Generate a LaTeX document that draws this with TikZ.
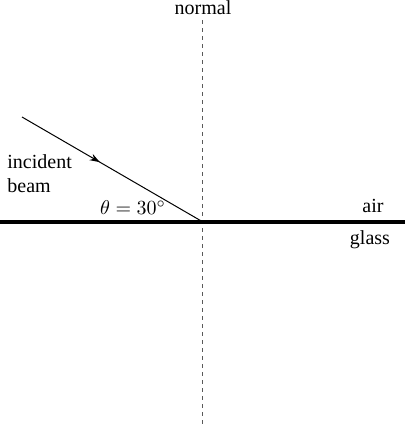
\documentclass[tikz,border=0pt]{standalone}
\usepackage{fontspec}
\setmainfont{Liberation Serif}
\usetikzlibrary{arrows.meta,decorations.markings,positioning}

\begin{document}
\begin{tikzpicture}[x=0.5pt,y=-0.5pt,
  surface/.style={line width=2pt},
  normalline/.style={line width=0.5pt, gray!70!black, dash pattern=on 2pt off 2pt},
  beam/.style={line width=0.5pt, postaction={decorate},
    decoration={markings, mark=at position 0.43 with {\arrow{Stealth[length=5pt,width=3.5pt]}}}},
  lbl/.style={font=\fontsize{10}{11}\selectfont, inner sep=0pt}
]
\useasboundingbox (0,0) rectangle (405,425);
% points
\coordinate (left) at (0,222);
\coordinate (right) at (405,222);
\coordinate (top) at (203,20);
\coordinate (bottom) at (203,425);
\coordinate (src) at (22,117);
\coordinate (hit) at (203,222);
% lines
\draw[normalline] (top) -- (bottom);
\draw[surface] (left) -- (right);
\draw[beam] (src) -- (hit);
% labels
\node[lbl] (normal) at (203,8) {normal};
\node[lbl, align=left, anchor=west] (incident) at (7,174) {incident\\[1pt]beam};
\node[lbl] (angle) at (133,208) {$\theta = 30^\circ$};
\node[lbl] (air) at (373,206) {air};
\node[lbl] (glass) at (370,240) {glass};
\end{tikzpicture}
\end{document}
